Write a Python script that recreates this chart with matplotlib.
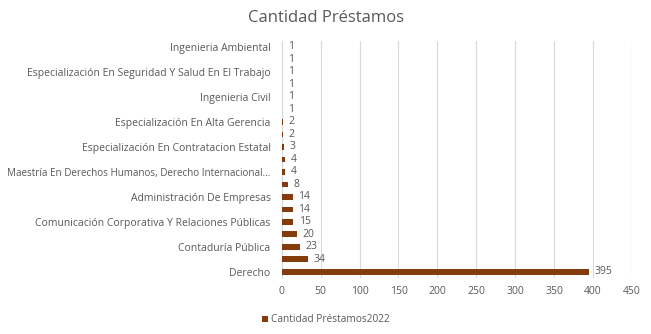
import matplotlib
matplotlib.use("Agg")
import matplotlib.pyplot as plt
from matplotlib.patches import Patch

plt.rcParams['font.family'] = ['Open Sans', 'DejaVu Sans']

# Categories from bottom to top (unlabelled ones left blank, as in the reference)
categories = [
    "Derecho", "", "Contaduría Pública", "",
    "Comunicación Corporativa Y Relaciones Públicas", "",
    "Administración De Empresas", "",
    "Maestría En Derechos Humanos, Derecho Internacional...", "",
    "Especialización En Contratacion Estatal", "",
    "Especialización En Alta Gerencia", "",
    "Ingenieria Civil", "",
    "Especialización En Seguridad Y Salud En El Trabajo", "",
    "Ingenieria Ambiental",
]
values = [395, 34, 23, 20, 15, 14, 14, 8, 4, 4, 3, 2, 2, 1, 1, 1, 1, 1, 1]
x_ticks = [0, 50, 100, 150, 200, 250, 300, 350, 400, 450]
series_name = "Cantidad Préstamos2022"
title = "Cantidad Préstamos"

bar_color = "#843C0C"
text_color = "#595959"
grid_color = "#D9D9D9"

fig = plt.figure(figsize=(6.51, 3.34), dpi=100)
ax = fig.add_axes([0.4327, 0.1677, 0.5381, 0.7103])

pos = list(range(len(values)))
ax.barh(pos, values, height=0.45, color=bar_color, zorder=3)

for p, v in zip(pos, values):
    ax.annotate(str(v), xy=(v, p), xytext=(4, 0), textcoords="offset points",
                va="center", ha="left", fontsize=7.5, color=text_color)

ax.set_xlim(0, 450)
ax.set_ylim(-0.5, len(values) - 0.5)
ax.set_xticks(x_ticks)
ax.set_xticklabels([str(t) for t in x_ticks])
ax.set_yticks(pos)
ax.set_yticklabels(categories)
ax.tick_params(axis="both", length=0, labelsize=7.5, colors=text_color)
ax.tick_params(axis="y", pad=8)
ax.tick_params(axis="x", pad=6)
for lbl in ax.get_yticklabels():
    if len(lbl.get_text()) > 50:
        lbl.set_fontsize(7.1)
ax.grid(axis="x", color=grid_color, linewidth=0.8, zorder=0)
for s in ["top", "right", "bottom"]:
    ax.spines[s].set_visible(False)
ax.spines["left"].set_color(grid_color)
ax.spines["left"].set_linewidth(0.8)

fig.text(0.5, 0.945, title, ha="center", va="center", fontsize=12, color=text_color)

fig.legend(handles=[Patch(facecolor=bar_color, label=series_name)],
           loc="center", bbox_to_anchor=(0.5, 0.042), frameon=False,
           fontsize=7.3, handlelength=0.6, handleheight=0.6, handletextpad=0.3,
           labelcolor=text_color)

fig.savefig("out.png", dpi=100)
